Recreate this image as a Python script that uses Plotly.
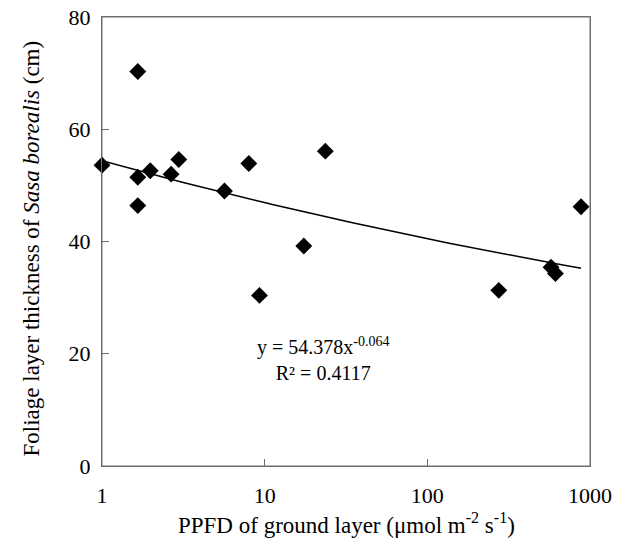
import numpy as np
import plotly.graph_objects as go

ppfd = [1.0, 1.66, 1.66, 1.66, 1.98, 2.66, 2.965, 5.66, 7.99, 9.29, 17.4, 23.6, 275, 576, 613, 881]
thickness = [53.6, 70.3, 51.45, 46.4, 52.6, 52.0, 54.6, 49.0, 53.9, 30.4, 39.2, 56.1, 31.3, 35.4, 34.3, 46.2]

coef_a = 54.378
coef_b = -0.064
r2 = 0.4117

x_ticks = [1, 10, 100, 1000]
y_ticks = [0, 20, 40, 60, 80]

xt = np.logspace(np.log10(min(ppfd)), np.log10(max(ppfd)), 100)
yt = coef_a * xt ** coef_b

FONT = "Liberation Serif, Times New Roman, serif"
AXCOL = "#6e6e6e"

fig = go.Figure()
fig.add_trace(go.Scatter(x=xt, y=yt, mode="lines", line=dict(color="black", width=1.5),
                         hoverinfo="skip", showlegend=False, cliponaxis=False))
fig.add_trace(go.Scatter(x=ppfd, y=thickness, mode="markers", cliponaxis=False,
                         marker=dict(symbol="diamond", size=13, color="black"),
                         showlegend=False))

fig.add_annotation(x=1.36, y=14.2, xref="x", yref="y",
                   text=f"y = {coef_a}x<sup>{coef_b}</sup><br>R² = {r2}",
                   showarrow=False, font=dict(family=FONT, size=20, color="black"),
                   align="center", xanchor="center", yanchor="bottom")

# axis titles as annotations for precise placement
fig.add_annotation(xref="paper", yref="paper", x=0.5, y=-0.128, xanchor="center", yanchor="middle",
                   text="PPFD of ground layer (μmol m<sup>-2</sup> s<sup>-1</sup>)",
                   showarrow=False, font=dict(family=FONT, size=23, color="black"))
fig.add_annotation(xref="paper", yref="paper", x=-0.145, y=0.485, xanchor="center", yanchor="middle",
                   text="Foliage layer thickness of <i>Sasa borealis</i> (cm)", textangle=-90,
                   showarrow=False, font=dict(family=FONT, size=23, color="black"))

fig.add_shape(type="rect", xref="paper", yref="paper", x0=0, y0=0, x1=1, y1=1,
              line=dict(color=AXCOL, width=1), fillcolor="rgba(0,0,0,0)", layer="below")

axis_common = dict(showline=True, linecolor=AXCOL, linewidth=1, mirror=True,
                   ticks="inside", ticklen=7, tickcolor=AXCOL, showgrid=False,
                   zeroline=False, automargin=False,
                   tickfont=dict(family=FONT, size=22, color="black"))

fig.update_xaxes(type="log", range=[0, 3], tickvals=x_ticks, ticktext=[str(v) for v in x_ticks],
                 ticklabelstandoff=10, **axis_common)
fig.update_yaxes(range=[0, 80], tickvals=y_ticks, ticklabelstandoff=6, **axis_common)

fig.update_layout(width=628, height=541, margin=dict(l=102, r=38, t=17, b=75),
                  plot_bgcolor="white", paper_bgcolor="white",
                  font=dict(family=FONT, color="black"))

# remove the default 8px page margin so the figure fills the window exactly
fig.write_html("out.html", config={"displayModeBar": False},
               post_script="document.body.style.margin='0';document.body.style.overflow='hidden';")
